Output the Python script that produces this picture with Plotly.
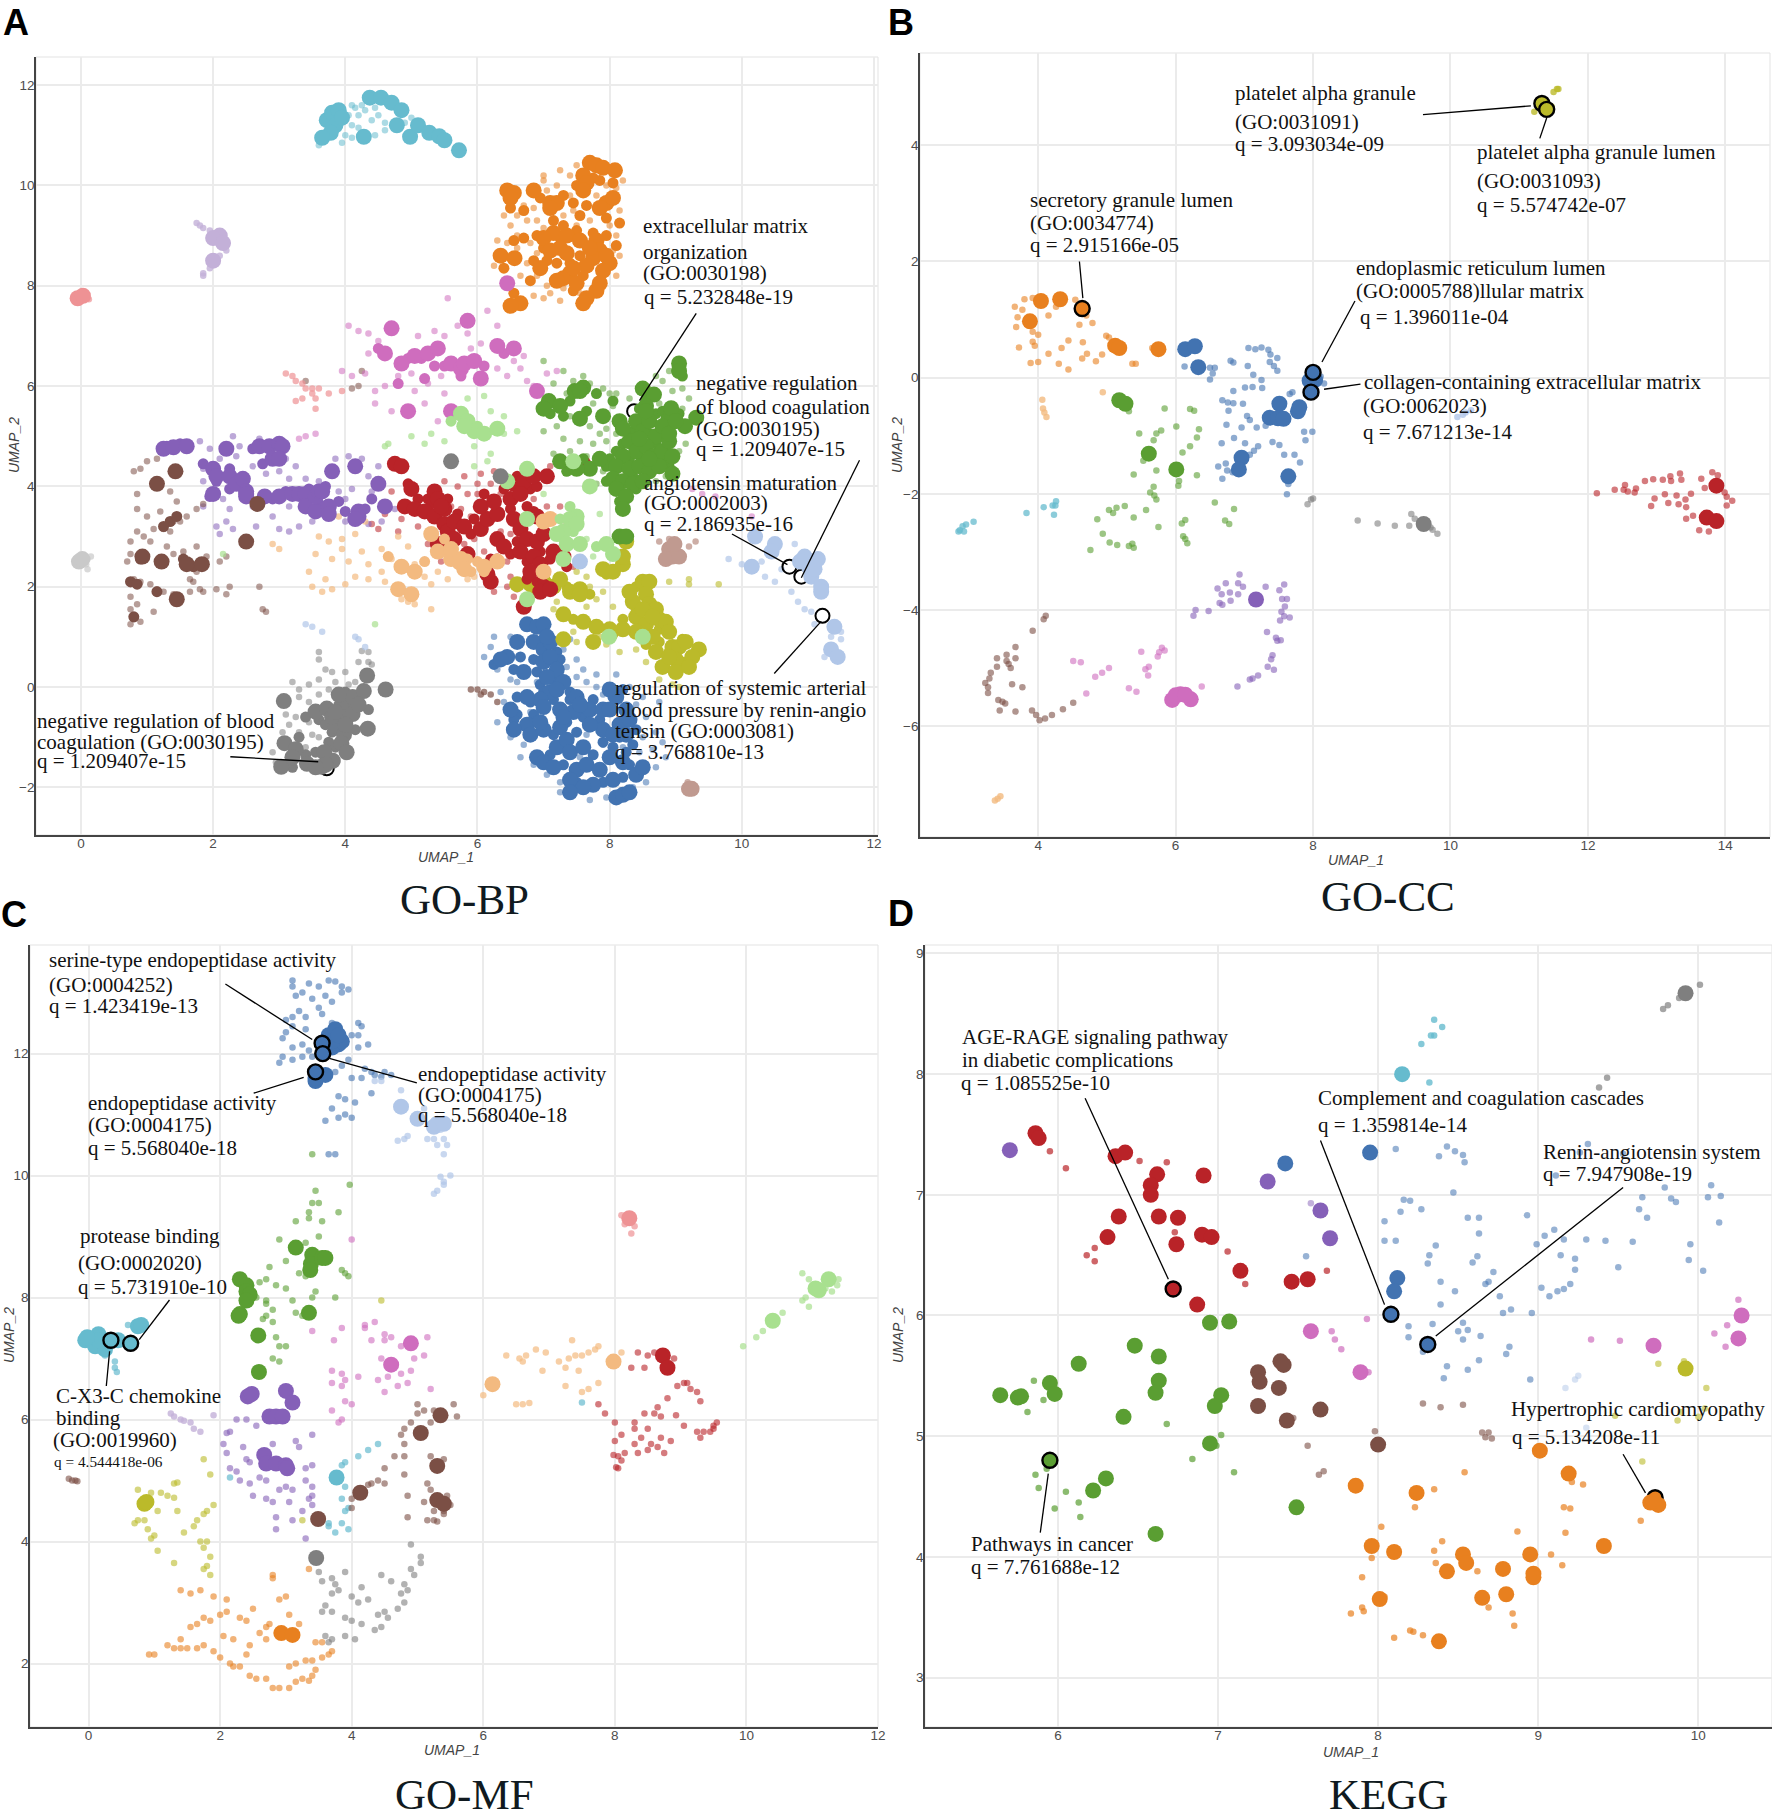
import plotly.graph_objects as go

# ---------- colours ----------
BLUE="#4273B1"; ORANGE="#E8801F"; GREEN="#5A9E32"; RED="#B92328"; PURPLE="#8560B8"; BROWN="#7B4F45"
PINK="#CF6DBE"; GRAY="#7F7F7F"; OLIVE="#BBBA2A"; TEAL="#66BBCE"; LBLUE="#B0C6E8"; LORANGE="#F3BA80"
LGREEN="#A8E08F"; SALMON="#EE9294"; LPURPLE="#C3B0D8"; LBROWN="#C09A90"; LGRAY="#C9C9C9"

# ---------- panel A (GO-BP) ----------
A_teal_L=[(3.72,11.3),(3.8,11.45),(3.9,11.5),(3.85,11.2),(3.95,11.35),(3.78,11.05),(4.28,10.97),(4.37,11.75),(4.54,11.75),(4.7,11.65),(4.85,11.5),(4.78,11.2),(4.98,10.97),(5.1,11.2),(5.27,11.05),(5.42,10.98),(5.5,10.9),(5.72,10.7),(3.65,10.95)]
A_teal_S=[(3.6,10.8),(3.7,11.0),(4.0,11.0),(4.1,11.2),(4.2,11.4),(4.3,11.5),(4.4,11.3),(4.5,11.4),(4.6,11.1),(4.45,11.0),(4.15,11.55),(4.05,11.4),(3.95,10.85),(4.1,10.95),(4.6,11.25),(4.25,11.6),(4.1,11.6),(4.45,11.55),(4.2,11.15),(5.0,11.35),(4.9,11.25)]
A_orange_L=[(6.45,9.9),(6.55,9.85),(6.5,9.75),(6.85,9.9),(7.1,9.65),(7.2,9.65),(7.1,9.55),(7.7,10.45),(7.8,10.4),(7.9,10.35),(7.6,10.2),(7.65,10.05),(8.08,10.3),(7.6,9.9),(7.95,9.65),(8.05,9.75),(7.85,9.55),(7.15,9.05),(7.0,8.95),(7.35,9.0),(7.55,8.9),(7.25,8.75),(7.1,8.7),(7.35,8.65),(7.8,8.9),(7.85,8.7),(7.75,8.55),(8.0,8.45),(7.9,8.3),(7.65,8.4),(7.4,8.25),(7.3,8.15),(7.5,8.05),(7.2,8.1),(7.85,8.05),(7.8,7.9),(7.65,7.75),(7.6,7.65),(6.35,8.6),(6.56,8.55),(6.65,7.65),(6.5,7.6),(6.95,8.35),(7.7,8.75),(7.45,8.35),(7.95,8.6)]
A_orange_M=[(6.5,9.55),(6.7,9.5),(6.95,9.75),(7.3,9.8),(7.45,9.65),(7.55,9.4),(7.3,9.2),(7.5,9.1),(7.15,9.3),(6.7,8.95),(6.55,8.9),(6.4,8.35),(6.85,8.5),(7.05,8.5),(7.2,8.45),(7.55,8.6),(7.6,8.2),(7.45,7.9),(8.1,8.8),(8.15,9.25),(8.05,10.05),(7.85,10.1),(7.75,10.15),(7.5,10.0),(6.8,8.1),(6.55,7.85),(7.95,9.35),(7.75,9.05),(7.95,9.0),(7.4,8.45),(6.9,9.0),(7.25,8.95),(7.0,8.75),(7.65,9.6)]
A_orange_S=[(6.4,9.4),(6.5,9.2),(6.6,9.4),(6.7,9.6),(6.75,9.3),(6.6,9.0),(6.45,8.85),(6.3,8.9),(6.8,8.85),(6.9,8.65),(6.75,8.45),(6.25,8.4),(6.65,8.2),(6.9,8.2),(7.05,8.0),(7.0,7.75),(7.1,7.85),(6.85,7.8),(6.9,9.3),(7.0,9.15),(7.3,9.4),(7.45,9.5),(7.4,9.8),(7.2,10.0),(7.0,10.1),(7.25,10.3),(7.4,10.2),(7.0,10.2),(7.5,9.2),(7.7,9.3),(8.0,9.2),(8.1,9.0),(8.15,9.5),(8.2,10.1),(8.1,9.95),(7.95,10.0),(7.8,9.8),(8.05,8.7),(8.15,8.6),(8.1,8.2),(7.25,7.7),(7.3,7.95),(7.55,7.85),(7.05,9.9),(7.5,10.4),(6.95,8.45),(6.6,8.75),(6.85,9.55)]
A_green_L=[(9.05,6.45),(9.05,6.3),(8.5,5.95),(7.6,5.97),(7.47,5.9),(7.08,5.7),(7.0,5.55),(7.25,5.6),(7.55,5.35),(7.9,5.4),(8.15,5.3),(8.67,5.83),(8.93,5.56),(9.31,5.37),(9.14,5.2),(8.4,5.3),(8.5,5.1),(8.6,5.3),(8.7,5.0),(8.8,5.2),(8.3,4.9),(8.4,4.7),(8.55,4.8),(8.65,4.6),(8.8,4.7),(8.9,4.9),(8.95,4.6),(8.2,4.6),(8.1,4.4),(8.3,4.35),(8.45,4.4),(8.6,4.3),(8.75,4.4),(8.05,4.15),(8.2,4.1),(8.35,4.05),(8.5,4.1),(8.1,3.95),(8.25,3.8),(8.2,3.55),(8.95,4.25),(7.7,4.35),(7.5,4.35),(7.25,4.5),(7.85,4.55),(8.9,5.05),(9.0,5.3),(8.2,5.15),(8.55,5.6),(8.55,5.5),(8.45,4.95),(8.6,4.55),(8.15,3.0),(8.25,3.0),(7.55,5.9)]
A_green_M=[(8.05,5.7),(8.55,5.75),(8.45,5.55),(8.7,5.45),(8.8,5.5),(9.05,5.45),(8.95,5.25),(8.35,5.1),(8.2,4.85),(8.1,4.7),(8.0,4.55),(7.95,4.4),(8.9,4.4),(8.85,4.55),(7.95,4.1),(8.4,3.95),(8.3,4.55),(8.5,4.55),(8.7,4.85),(8.6,5.05),(8.15,3.7),(7.3,5.4),(7.1,5.45),(7.8,5.85),(7.4,5.7),(7.65,5.5),(8.85,5.35),(8.75,4.55),(7.6,4.55),(7.35,4.3),(9.1,6.2),(8.55,5.7),(8.35,4.2)]
A_green_S=[(7.3,6.3),(7.45,6.1),(7.7,6.05),(7.9,5.95),(8.1,5.85),(8.3,5.75),(8.05,5.6),(7.75,5.65),(7.4,5.4),(7.2,5.2),(7.0,5.1),(7.3,4.95),(7.55,4.9),(7.75,4.85),(7.95,4.9),(7.4,4.7),(7.15,4.65),(7.65,4.6),(7.9,4.3),(7.8,4.05),(8.1,5.05),(7.95,5.15),(8.75,5.65),(8.95,5.9),(9.1,5.95),(8.8,6.1),(8.7,6.2),(8.9,6.3),(9.2,5.75),(9.05,4.7),(9.15,4.85),(7.15,6.05),(6.9,5.9),(7.0,6.5),(7.6,6.2),(8.0,5.85),(7.35,5.85),(7.85,5.05),(7.7,5.2),(8.85,4.2),(8.7,4.1),(9.1,5.55)]
A_gray_L=[(3.07,-0.28),(3.55,-0.49),(3.72,-0.43),(3.94,-0.37),(4.11,-0.2),(4.28,-0.08),(4.33,0.23),(4.61,-0.05),(4.34,-0.83),(4.02,-0.6),(3.85,-0.78),(3.98,-0.95),(4.11,-0.54),(3.08,-1.12),(3.25,-1.24),(3.03,-1.59),(3.42,-1.53),(3.64,-1.59),(3.81,-1.47),(3.68,-1.3),(3.94,-1.12),(4.02,-1.3),(3.8,-0.6),(3.9,-0.15),(3.7,-1.55),(3.55,-1.6),(3.2,-1.4),(4.0,-0.75),(4.2,-0.35),(3.85,-0.5)]
A_gray_M=[(3.3,-1.0),(3.4,-1.35),(3.2,-1.6),(3.55,-1.3),(3.75,-1.1),(3.85,-1.2),(3.6,-0.65),(3.7,-0.75),(4.15,-0.85),(3.95,-0.2),(4.05,-0.35),(4.35,-0.45),(3.4,-0.6),(3.8,-0.9),(4.0,-0.1)]
A_gray_S=[(3.1,-0.55),(3.15,-0.75),(3.05,-0.9),(3.3,-0.9),(3.25,-0.6),(3.45,-0.3),(3.3,-0.05),(3.2,0.1),(3.45,0.05),(3.6,0.15),(3.6,-0.15),(3.75,-0.05),(3.85,0.1),(4.0,0.3),(4.15,0.1),(3.6,0.55),(3.7,0.35),(3.6,0.7),(4.2,0.5),(4.35,0.5),(4.35,0.7),(4.25,0.72),(4.4,0.45),(3.5,-0.95),(3.4,-1.2),(3.6,-1.0),(2.9,-1.3),(2.95,-1.5),(3.3,-0.2),(3.8,0.3),(4.05,0.05),(3.45,-0.7)]
A_blue_L=[(6.6,0.9),(6.45,0.6),(6.35,0.55),(6.7,0.3),(6.75,1.25),(6.9,1.2),(7.0,1.25),(6.85,0.9),(7.0,0.75),(7.1,0.9),(7.0,0.5),(7.1,0.6),(7.2,0.35),(7.05,1.0),(7.05,0.2),(7.3,0.1),(7.1,-0.1),(6.95,-0.25),(6.75,-0.2),(7.0,-0.4),(7.25,-0.45),(6.75,-0.75),(6.55,-0.85),(6.8,-0.95),(7.0,-0.85),(7.25,-0.8),(7.45,-0.5),(7.5,-0.2),(7.7,-0.45),(7.55,-0.35),(7.9,-0.45),(8.0,-0.45),(7.9,-0.85),(8.15,-0.75),(8.05,-0.95),(8.25,-0.95),(7.2,-1.2),(7.35,-1.05),(7.4,-1.3),(6.9,-1.4),(7.0,-1.5),(7.15,-1.6),(7.5,-1.65),(7.65,-1.55),(7.4,-1.85),(7.75,-1.95),(7.6,-2.0),(7.4,-2.1),(8.05,-1.85),(8.1,-2.2),(8.2,-2.15),(8.3,-2.1),(8.4,-1.75),(8.5,-1.6),(8.2,-1.5),(8.0,-1.4),(7.85,-1.65),(8.1,-0.2),(8.0,-0.05),(8.25,-0.45),(7.6,-1.2),(7.2,-0.05),(7.3,-0.6),(6.5,-0.45),(6.95,-0.7),(8.3,-0.65),(7.7,-0.75)]
A_blue_M=[(6.25,0.45),(6.55,0.35),(6.65,0.6),(6.85,0.55),(6.9,0.3),(6.95,0.05),(7.2,0.7),(7.25,0.55),(7.15,0.15),(7.0,-0.1),(6.85,-0.55),(6.6,-0.55),(6.6,-0.2),(7.15,-0.25),(7.4,-0.25),(7.35,-0.7),(7.5,-0.9),(7.6,-0.6),(7.75,-0.25),(7.85,-0.65),(8.05,-0.2),(8.2,-0.05),(8.4,-0.85),(8.35,-1.15),(8.25,-1.3),(8.05,-1.2),(7.75,-1.35),(7.3,-1.55),(7.1,-1.35),(7.15,-0.95),(7.5,-1.9),(8.2,-1.8),(8.3,-1.55),(7.9,-1.9),(6.8,-0.3),(7.4,-0.1),(7.9,-1.1),(6.55,-0.65),(8.15,-1.0)]
A_blue_S=[(6.1,0.6),(6.2,0.8),(6.25,1.0),(6.5,1.0),(6.3,0.35),(6.5,0.15),(6.35,-0.1),(6.4,-0.3),(6.6,0.1),(6.3,-0.7),(6.5,-1.0),(6.7,-1.15),(6.65,-1.4),(6.85,-1.55),(7.3,0.75),(7.35,0.4),(7.5,0.2),(7.5,0.55),(7.4,0.95),(7.6,0.35),(7.8,0.0),(7.65,0.1),(7.9,-0.15),(8.1,0.25),(8.3,0.0),(8.5,-0.2),(8.55,-0.6),(8.7,-0.9),(8.5,-1.0),(8.65,-1.25),(8.45,-1.3),(8.7,-1.6),(8.55,-1.9),(8.35,-2.0),(7.95,-2.2),(7.7,-2.25),(7.25,-1.9),(7.05,-1.75),(7.25,-2.1),(7.55,-1.4),(7.9,-1.15),(8.2,-1.2),(8.85,-1.4),(8.8,-1.1),(7.65,-0.95),(6.8,-0.5),(7.8,0.25),(8.4,-0.35),(8.75,-0.3),(6.9,0.1)]
A_red_L=[(4.75,4.45),(4.85,4.4),(5.0,3.95),(4.9,3.6),(5.05,3.55),(5.2,3.5),(5.35,3.4),(5.5,3.25),(5.55,3.1),(5.35,3.9),(5.4,3.75),(5.5,3.55),(5.65,3.3),(5.8,3.2),(5.4,2.85),(5.85,2.65),(6.05,3.15),(6.15,3.35),(6.3,3.45),(6.05,3.6),(6.25,3.7),(6.5,3.75),(6.55,4.05),(6.7,4.1),(6.85,4.2),(6.65,3.85),(6.55,3.35),(6.65,3.15),(6.75,2.95),(6.9,2.9),(6.65,2.7),(6.85,2.6),(6.95,2.45),(6.8,2.3),(7.0,3.05),(7.15,2.7),(7.3,2.6),(7.05,4.2),(7.6,4.45),(6.3,2.95),(6.2,2.1),(6.15,2.25),(6.4,2.8),(7.0,2.0),(6.95,1.9),(7.1,1.95),(6.7,1.6),(5.65,2.95),(5.45,3.6),(6.9,3.4)]
A_red_M=[(5.1,3.75),(5.25,3.75),(4.95,4.05),(5.3,3.65),(5.55,3.75),(5.7,3.45),(5.95,3.35),(6.1,3.85),(6.4,3.95),(6.5,3.55),(6.75,3.6),(6.85,3.5),(6.6,2.9),(6.5,2.65),(6.75,2.5),(6.95,2.7),(7.1,2.55),(6.9,2.1),(6.6,4.2),(6.8,3.95),(5.9,3.05),(6.2,2.55),(7.35,2.4),(6.75,2.15),(6.9,4.0)]
A_red_S=[(4.7,3.9),(4.85,3.35),(4.6,3.45),(4.4,3.25),(4.5,3.15),(4.8,3.1),(5.1,3.2),(5.3,3.05),(5.6,3.6),(5.75,3.55),(5.85,3.85),(5.7,4.0),(5.8,4.2),(6.05,4.25),(6.2,4.05),(6.35,3.85),(6.0,3.85),(6.5,3.05),(6.35,3.1),(6.45,2.5),(6.3,2.6),(5.95,2.95),(6.1,2.7),(6.05,2.45),(6.5,2.2),(6.45,2.0),(6.25,1.9),(6.55,1.8),(6.6,1.95),(7.2,3.0),(7.05,3.6),(7.25,3.6),(6.85,3.75),(7.1,4.4),(6.8,4.4),(7.35,3.25),(7.45,2.4),(6.95,2.2),(5.45,2.5),(5.6,2.7),(5.8,2.85),(5.25,2.85),(6.0,4.05),(6.25,4.3),(5.9,3.4),(5.5,4.1)]
A_purple_L=[(1.25,4.75),(1.4,4.78),(1.6,4.8),(2.2,4.75),(2.0,4.35),(2.05,4.2),(2.25,4.2),(2.35,4.05),(2.45,4.15),(2.5,3.9),(2.0,3.85),(2.5,3.8),(2.5,3.85),(2.78,3.8),(2.7,4.8),(2.85,4.8),(3.0,4.85),(3.05,4.8),(2.9,4.55),(3.0,4.55),(3.0,3.8),(3.2,3.85),(3.3,3.85),(3.4,3.85),(3.4,3.6),(3.55,3.5),(3.55,3.8),(3.6,3.9),(3.75,3.6),(3.65,3.9),(3.8,4.3),(3.75,3.45),(4.2,3.5),(4.2,3.4),(4.15,4.4),(4.15,3.35),(4.6,3.6),(4.5,4.05)]
A_purple_M=[(1.3,4.8),(1.5,4.85),(2.05,4.1),(2.25,3.95),(2.75,4.45),(2.6,4.75),(3.1,3.9),(3.6,3.65),(3.9,3.7),(4.0,3.5),(4.3,3.55),(2.25,4.35),(1.95,3.8),(1.85,4.45),(3.7,4.0),(4.4,3.75),(3.45,3.95),(2.9,3.75)]
A_purple_S=[(1.8,4.9),(1.95,4.75),(2.1,4.55),(2.35,4.6),(2.6,4.4),(2.4,4.8),(1.85,4.35),(1.85,4.1),(2.15,3.75),(1.85,3.6),(2.25,3.55),(2.6,3.6),(2.9,3.4),(3.0,3.15),(2.65,3.2),(2.3,3.15),(2.05,3.2),(2.2,3.3),(2.1,3.05),(3.15,3.1),(3.3,3.2),(3.5,3.3),(3.15,4.15),(3.0,4.3),(3.1,4.55),(3.25,4.4),(3.4,4.15),(3.6,4.1),(3.85,4.55),(4.05,4.6),(4.25,4.55),(4.35,4.2),(4.4,3.9),(4.0,3.75),(3.9,3.9),(4.0,3.3),(4.1,3.95),(4.35,3.25),(4.55,3.3),(4.75,3.55),(4.5,4.4),(2.7,4.95),(2.3,5.0),(2.8,4.25),(3.15,3.6)]
A_brown_L=[(1.43,4.3),(1.15,4.05),(2.67,3.65),(2.5,2.9),(0.93,2.6),(1.22,2.5),(1.6,2.45),(1.83,2.45),(1.45,1.75)]
A_brown_M=[(1.35,3.3),(1.45,3.4),(1.25,3.2),(0.75,2.1),(0.85,2.05),(0.8,1.4),(1.55,2.55),(1.7,2.4),(1.15,1.9),(0.9,2.55)]
A_brown_S=[(0.8,4.3),(0.9,4.35),(1.0,4.5),(1.15,4.55),(1.2,4.7),(0.85,3.85),(0.85,3.55),(1.0,3.4),(1.2,3.5),(1.35,3.9),(1.45,3.7),(1.4,3.3),(1.25,3.15),(1.35,3.1),(1.5,3.3),(1.6,3.4),(1.75,3.55),(1.85,3.65),(1.1,3.15),(0.85,3.1),(0.75,2.9),(0.75,2.65),(0.7,2.5),(0.95,3.0),(1.05,2.9),(1.3,2.8),(1.4,2.65),(1.55,2.7),(1.75,2.8),(1.9,2.6),(2.1,2.5),(2.2,2.6),(1.75,2.3),(1.7,2.1),(1.65,2.15),(1.8,1.95),(0.8,2.15),(0.75,2.05),(0.9,2.1),(1.05,2.05),(1.15,1.95),(1.25,1.9),(1.4,1.85),(1.65,1.9),(1.85,1.9),(2.05,1.95),(2.2,1.85),(2.25,2.0),(0.75,1.8),(0.75,1.55),(0.8,1.35),(0.75,1.25),(0.9,1.3),(1.1,1.5),(0.85,1.65),(2.75,1.55),(2.8,1.5),(2.7,2.0),(3.4,6.1),(4.2,6.0),(4.1,5.95),(4.25,6.3)]
A_lorange_L=[(4.85,2.4),(5.05,2.3),(5.3,3.05),(5.4,2.7),(5.6,2.55),(5.75,2.55),(5.6,2.75),(5.8,2.35),(6.1,2.4),(6.3,2.5),(4.8,1.95),(5.0,1.85),(7.0,3.3),(7.1,3.35),(7.0,2.3)]
A_lorange_M=[(5.5,2.95),(5.85,2.55),(6.0,2.5),(5.9,2.3),(5.2,2.5),(4.65,2.6),(6.1,2.3),(5.7,2.45)]
A_lorange_S=[(3.6,3.0),(3.75,2.9),(3.55,2.65),(3.8,2.55),(3.95,2.75),(4.15,3.05),(4.25,2.7),(4.05,2.5),(4.35,2.45),(4.55,2.75),(4.55,2.3),(4.35,2.15),(4.6,2.1),(4.15,2.2),(3.45,2.3),(3.5,2.0),(3.65,1.9),(3.8,1.95),(4.0,2.05),(3.7,2.15),(4.8,3.0),(4.95,2.8),(5.05,2.45),(5.2,2.2),(5.4,2.3),(5.3,2.05),(5.55,2.15),(4.85,1.75),(5.05,1.65),(4.95,1.7),(5.3,1.55),(2.9,2.85),(3.0,2.75),(5.85,2.15),(5.95,2.2),(3.95,2.95),(4.3,3.3),(3.55,3.55),(3.9,3.4),(4.7,2.55)]
A_olive_L=[(6.6,2.05),(6.8,2.05),(6.85,2.0),(7.0,2.1),(7.15,2.0),(7.25,2.15),(7.4,1.9),(7.55,1.95),(7.55,1.85),(7.3,1.45),(7.6,1.3),(7.9,2.35),(8.05,2.3),(8.2,2.45),(8.2,2.6),(8.25,2.9),(8.5,2.1),(8.6,2.1),(8.55,1.85),(8.35,1.7),(8.6,1.65),(8.7,1.55),(8.75,1.35),(8.85,1.3),(8.4,1.4),(8.55,1.25),(8.4,1.1),(8.2,1.15),(8.0,1.15),(7.8,1.2),(7.3,0.95),(7.75,0.9),(8.65,1.0),(8.95,0.8),(9.05,0.8),(9.15,0.9),(9.35,0.75),(9.25,0.6),(9.0,0.55),(8.7,0.7),(8.8,0.4),(9.0,0.3),(8.5,1.55),(8.3,1.9),(9.2,0.4),(8.9,0.6),(8.65,1.4),(8.9,1.1)]
A_olive_M=[(6.9,1.9),(7.35,2.0),(7.7,1.85),(8.4,2.0),(8.4,1.55),(8.2,1.35),(8.55,0.85),(8.75,0.9),(8.9,0.7),(9.1,0.5),(7.95,2.25),(8.05,1.05),(8.75,1.15),(7.45,1.35),(9.1,0.95)]
A_olive_S=[(7.5,2.3),(7.65,2.2),(7.7,2.0),(7.8,1.75),(7.65,1.6),(7.9,1.9),(8.05,1.6),(7.2,1.7),(7.15,1.55),(7.45,1.1),(7.5,0.9),(7.95,0.85),(8.15,0.7),(8.4,0.75),(8.55,0.5),(8.75,0.15),(8.95,0.05),(9.05,0.0),(9.2,2.15),(9.2,2.05),(9.65,2.05),(8.9,2.1),(7.85,1.0)]
A_pink_L=[(4.7,7.15),(4.6,6.65),(4.85,6.45),(5.05,6.6),(5.25,6.65),(5.4,6.75),(5.6,6.45),(5.75,6.35),(5.8,6.45),(5.95,6.5),(6.05,6.15),(6.3,6.8),(6.55,6.75),(5.85,7.3),(6.9,5.9),(4.95,5.5),(5.6,5.5),(6.45,8.05)]
A_pink_M=[(4.95,6.55),(5.15,6.55),(5.5,6.4),(4.5,6.75),(5.75,6.2),(5.35,6.4),(6.4,6.65),(6.1,6.4),(4.8,6.05),(5.2,6.15)]
A_pink_S=[(4.05,7.2),(4.2,7.1),(4.35,7.05),(4.5,6.9),(4.35,6.65),(4.6,6.0),(4.45,5.9),(4.45,5.65),(4.7,5.5),(5.05,5.9),(5.25,6.05),(5.5,5.85),(5.2,5.65),(5.4,5.3),(5.1,7.0),(5.35,7.1),(5.5,7.0),(5.55,7.75),(5.7,7.2),(5.85,7.05),(6.15,7.5),(6.05,6.85),(6.3,7.2),(6.55,6.5),(6.65,6.35),(6.3,6.35),(6.45,6.2),(6.75,6.1),(7.05,6.25),(7.2,6.3),(3.4,5.0),(3.55,5.05),(3.3,4.95),(3.95,6.3),(4.1,6.2),(4.3,6.25),(4.8,6.2),(5.0,6.25),(5.9,6.75),(6.7,6.6),(9.4,3.85),(9.6,3.8),(9.25,3.95),(10.15,3.4),(5.45,6.2),(6.85,6.0)]
A_lgreen_L=[(5.75,5.45),(5.85,5.3),(5.95,5.1),(6.1,5.05),(5.8,5.2),(6.3,5.15),(7.3,2.55),(7.5,3.4),(7.3,3.1),(7.4,3.35),(7.2,3.05),(7.35,2.85),(7.55,2.85),(7.95,2.85),(8.05,2.65),(7.5,3.25),(6.75,4.35),(6.45,4.1),(6.75,3.35),(7.45,4.5),(6.75,1.75),(8.5,1.0),(7.99,1.0),(7.7,4.0)]
A_lgreen_M=[(5.6,5.3),(6.0,5.2),(7.45,3.1),(7.25,3.35),(7.3,2.95),(7.8,2.8),(7.4,3.6)]
A_lgreen_S=[(5.3,5.05),(5.0,5.0),(5.2,4.85),(5.5,4.9),(5.95,4.8),(6.2,4.65),(5.95,4.4),(6.15,4.5),(6.2,5.5),(6.4,5.4),(6.4,5.05),(6.6,5.1),(5.85,5.75),(6.1,5.8),(7.0,3.85),(4.65,4.85),(4.6,4.8),(7.75,2.6),(7.85,3.45),(7.65,2.95),(4.45,1.25),(2.15,2.65)]
A_lblue_L=[(10.5,2.85),(10.2,3.0),(10.15,2.4),(10.45,2.7),(11.02,2.38),(11.05,2.2),(10.95,2.6),(11.1,2.35),(10.88,2.5),(11.15,2.55),(11.2,2.0),(11.2,1.9),(11.4,1.2),(11.35,0.75),(11.45,0.6),(7.55,2.5)]
A_lblue_S=[(10.0,2.45),(10.3,2.5),(10.6,2.35),(10.5,2.1),(10.75,1.9),(10.85,1.7),(10.95,1.55),(11.05,1.5),(11.1,1.25),(11.35,1.0),(11.5,0.95),(11.25,0.6),(3.4,1.25),(3.5,1.2),(3.65,1.1),(4.2,0.95),(4.15,1.0),(4.3,0.8),(9.8,2.55),(10.8,2.85),(10.35,2.2),(11.5,1.1)]
A_lpurple_L=[(2.1,9.0),(2.0,8.95),(2.15,8.85),(2.0,8.5)]
A_lpurple_S=[(1.75,9.25),(1.85,9.15),(1.95,9.1),(2.1,8.8),(1.95,8.35),(1.85,8.2),(1.85,8.25),(2.2,8.7),(1.8,9.2),(2.1,8.6)]
A_salmon_L=[(-0.05,7.75),(0.03,7.8)]
A_salmon_S=[(0.1,7.75),(0.12,7.73),(0.0,7.85),(-0.08,7.7),(3.4,5.95),(3.5,5.95),(3.35,6.05),(3.2,6.2),(3.1,6.25),(3.5,5.85),(3.55,5.75),(3.25,5.7),(3.35,5.75),(3.6,5.95),(3.75,5.85),(3.95,5.9),(3.55,5.55),(3.25,6.1)]
A_lgray_L=[(-0.03,2.5),(0.02,2.55)]
A_lgray_S=[(0.1,2.55),(0.15,2.6),(0.08,2.45),(-0.05,2.55),(0.1,2.35)]
A_lbrown_L=[(8.9,2.75),(8.95,2.6),(8.85,2.55),(9.05,2.6),(8.98,2.85),(9.2,-2.03),(9.24,-2.03)]
A_lbrown_S=[(9.3,2.9),(9.2,2.8),(8.75,2.9),(9.18,-1.9),(8.9,2.95)]
A_misc_brown_S=[(5.9,-0.05),(6.0,-0.05),(6.1,-0.1),(6.05,-0.15),(6.2,-0.15),(6.3,-0.3)]
A_misc_gray_L=[(5.6,4.5),(6.35,4.2)]
A_rings=[(8.37,5.5),(10.72,2.4),(10.9,2.2),(11.22,1.42),(3.72,-1.62)]
A_leaders=[[(9.31,7.45),(8.45,5.71)],[(11.78,4.52),(10.9,2.18)],[(9.85,3.05),(10.69,2.44)],[(10.49,0.27),(11.2,1.31)],[(2.26,-1.39),(3.59,-1.49)]]

# ---------- panel B (GO-CC) ----------
B_orange_L=[(4.04,1.32),(4.32,1.35),(3.88,0.97),(5.12,0.55),(5.18,0.51),(5.75,0.49)]
B_orange_S=[(3.8,1.35),(3.92,1.37),(3.66,1.22),(3.77,1.17),(3.7,1.04),(3.68,0.87),(3.92,0.79),(4.0,0.74),(3.92,0.62),(3.72,0.52),(3.95,0.55),(3.89,0.25),(4.0,0.27),(4.15,1.07),(4.26,1.22),(4.54,1.34),(4.6,0.91),(4.7,1.07),(4.79,0.94),(4.99,0.72),(5.03,0.69),(4.15,0.41),(4.34,0.51),(4.44,0.64),(4.3,0.24),(4.44,0.14),(4.64,0.33),(4.71,0.41),(4.65,0.61),(4.84,0.28),(4.93,0.4),(5.37,0.24),(5.42,0.24),(5.66,0.51)]
B_lorange_S=[(4.06,-0.38),(4.07,-0.53),(4.12,-0.68),(4.09,-0.6),(4.94,-0.25),(3.41,-7.25),(3.37,-7.28),(3.45,-7.21)]
B_blue_L=[(6.14,0.49),(6.28,0.54),(6.33,0.18),(7.51,-0.45),(7.37,-0.69),(7.49,-0.7),(7.57,-0.71),(7.78,-0.58),(7.8,-0.51),(6.96,-1.38),(6.92,-1.58),(7.64,-1.7),(7.95,-0.05),(8.03,-0.04)]
B_blue_S=[(7.06,0.51),(7.16,0.49),(7.25,0.52),(7.35,0.48),(7.38,0.4),(7.48,0.34),(7.37,0.27),(7.43,0.2),(7.48,0.12),(7.05,0.2),(7.13,0.05),(7.25,-0.04),(7.12,-0.16),(7.26,-0.18),(7.01,-0.17),(6.84,0.26),(6.8,0.29),(6.5,0.17),(6.57,0.17),(6.54,0.07),(6.5,-0.03),(6.13,0.19),(6.84,-0.23),(6.68,-0.39),(6.76,-0.43),(6.84,-0.44),(6.98,-0.45),(6.77,-0.57),(7.04,-0.66),(7.08,-0.73),(6.74,-0.81),(6.96,-0.86),(7.31,-0.83),(7.18,-0.86),(6.85,-1.04),(7.41,-1.11),(7.51,-1.16),(6.67,-1.13),(7.2,-1.18),(7.14,-1.26),(7.08,-1.33),(7.01,-1.13),(7.58,-1.33),(7.73,-1.33),(7.66,-0.28),(7.7,-0.25),(7.87,-0.93),(7.99,-0.93),(7.89,-1.08),(7.81,-1.46),(6.62,-1.53),(6.73,-1.48),(6.75,-1.6),(6.68,-1.74),(6.83,-1.63),(7.62,-2.01),(7.64,-1.83),(8.16,-0.1),(8.11,0.02)]
B_green_L=[(5.18,-0.39),(5.27,-0.45),(5.61,-1.31),(6.01,-1.58)]
B_green_S=[(5.32,-0.58),(5.84,-0.53),(6.21,-0.54),(6.27,-0.57),(6.01,-0.84),(6.34,-0.89),(5.79,-0.91),(5.72,-0.96),(5.47,-0.96),(5.68,-1.08),(6.21,-1.18),(6.1,-1.29),(6.31,-1.03),(5.53,-1.43),(5.39,-1.67),(6.31,-1.68),(5.72,-1.6),(5.68,-1.88),(5.63,-1.98),(5.69,-2.03),(5.72,-2.1),(6.04,-1.86),(6.05,-1.78),(5.26,-2.21),(5.14,-2.24),(5.03,-2.28),(5.09,-2.33),(4.86,-2.44),(5.39,-2.41),(5.57,-2.28),(5.75,-2.57),(6.09,-2.51),(6.14,-2.45),(6.57,-2.15),(6.85,-2.26),(6.72,-2.46),(6.78,-2.52),(4.94,-2.69),(5.04,-2.84),(5.15,-2.88),(4.76,-2.97),(5.37,-2.86),(5.32,-2.9),(5.39,-2.93),(6.11,-2.73),(6.14,-2.78),(6.17,-2.85)]
B_teal_S=[(2.86,-2.63),(2.9,-2.56),(2.95,-2.53),(2.84,-2.65),(2.92,-2.65),(3.06,-2.48),(3.83,-2.33),(4.08,-2.23),(4.21,-2.2),(4.26,-2.13),(4.25,-2.2),(4.23,-2.36)]
B_gray_L=[(9.61,-2.52)]
B_gray_S=[(7.92,-2.18),(7.97,-2.1),(8.0,-2.08),(8.65,-2.46),(8.94,-2.51),(9.19,-2.55),(9.4,-2.55),(9.43,-2.35),(9.48,-2.43),(9.71,-2.58),(9.74,-2.62),(9.81,-2.69)]
B_red_L=[(13.87,-1.86),(13.73,-2.41),(13.87,-2.47)]
B_red_S=[(12.13,-1.99),(12.39,-1.93),(12.52,-1.93),(12.54,-1.85),(12.58,-1.96),(12.68,-1.98),(12.7,-1.91),(12.83,-1.78),(12.95,-1.75),(13.09,-1.76),(13.2,-1.7),(13.21,-1.78),(13.34,-1.65),(13.36,-1.76),(13.65,-1.74),(13.81,-1.63),(13.89,-1.68),(13.7,-1.9),(13.99,-1.98),(14.1,-2.12),(14.02,-2.05),(14.02,-2.2),(13.5,-2.0),(13.42,-2.1),(13.29,-2.03),(13.12,-2.01),(12.97,-2.08),(13.17,-2.16),(12.92,-2.21),(13.32,-2.18),(13.43,-2.23),(13.43,-2.43),(13.53,-2.38),(13.62,-2.63),(13.76,-2.65)]
B_purple_L=[(7.17,-3.82)]
B_purple_S=[(6.93,-3.39),(6.73,-3.54),(6.91,-3.54),(6.98,-3.6),(6.61,-3.63),(6.79,-3.7),(6.67,-3.73),(6.91,-3.73),(6.8,-3.84),(6.64,-3.88),(6.68,-3.91),(6.48,-4.02),(6.29,-4.0),(6.26,-4.1),(7.58,-3.56),(7.51,-3.66),(7.31,-3.6),(7.55,-3.81),(7.62,-3.81),(7.59,-3.94),(7.54,-4.03),(7.58,-4.11),(7.66,-4.13),(7.52,-4.18),(7.33,-4.38),(7.46,-4.48),(7.53,-4.52),(7.48,-4.53),(7.41,-4.78),(7.39,-4.85),(7.34,-4.98),(7.43,-5.03),(7.2,-5.13),(7.12,-5.18),(7.08,-5.2),(6.9,-5.32)]
B_pink_L=[(5.95,-5.55),(6.07,-5.45),(6.0,-5.47),(6.22,-5.54),(6.14,-5.46)]
B_pink_S=[(4.51,-4.88),(4.62,-4.9),(5.03,-5.0),(4.93,-5.08),(4.83,-5.15),(4.7,-5.44),(5.5,-4.72),(5.8,-4.65),(5.84,-4.7),(5.76,-4.73),(5.74,-4.8),(5.61,-4.98),(5.56,-5.02),(5.6,-5.13),(5.32,-5.35),(5.43,-5.41),(6.38,-5.32)]
B_brown_S=[(4.11,-4.1),(4.08,-4.16),(3.92,-4.36),(3.67,-4.64),(3.54,-4.77),(3.4,-4.83),(3.67,-4.83),(3.54,-4.88),(3.57,-4.93),(3.4,-4.98),(3.6,-5.0),(3.31,-5.08),(3.29,-5.18),(3.23,-5.26),(3.27,-5.33),(3.62,-5.28),(3.77,-5.33),(3.27,-5.43),(3.42,-5.55),(3.48,-5.58),(3.52,-5.61),(3.44,-5.73),(3.67,-5.75),(3.91,-5.73),(3.97,-5.81),(4.02,-5.9),(4.1,-5.87),(4.2,-5.81),(4.36,-5.71),(4.51,-5.6)]
B_olive_S=[(11.55,4.97),(11.5,4.92),(11.57,4.97),(11.22,4.58),(11.47,4.67)]
B_lblue_S=[(10.1,-0.68),(10.18,-0.64),(10.3,-0.56),(10.22,-0.6)]
B_ring_fill=[(11.33,4.72,OLIVE),(11.4,4.62,OLIVE),(4.64,1.19,ORANGE),(8.0,0.09,BLUE),(7.97,-0.25,BLUE)]
B_leaders=[[(9.6,4.53),(11.17,4.68)],[(11.3,4.12),(11.4,4.47)],[(4.6,2.0),(4.65,1.37)],[(8.13,0.27),(8.61,1.32)],[(8.16,-0.2),(8.69,-0.11)]]

# ---------- panel C (GO-MF) ----------
C_blue_L=[(3.74,12.35),(3.75,12.25),(3.8,12.15),(3.7,12.1),(3.85,12.2),(3.65,12.3),(3.75,12.4),(3.45,11.55),(3.6,11.65),(3.45,11.6),(3.7,12.2),(3.8,12.3)]
C_blue_S=[(3.1,13.1),(3.1,13.2),(3.25,13.0),(3.35,13.15),(3.5,13.1),(3.65,13.2),(3.75,13.18),(3.85,13.1),(3.95,13.05),(3.85,13.0),(3.15,12.95),(3.4,12.9),(3.6,12.95),(3.7,12.85),(3.5,12.75),(3.2,12.7),(3.3,12.6),(3.1,12.6),(3.0,12.55),(3.55,12.65),(3.7,12.5),(3.1,12.45),(3.0,12.35),(2.95,12.25),(3.1,12.1),(3.25,12.15),(3.3,12.4),(2.95,11.95),(3.1,11.9),(3.25,11.95),(3.4,11.95),(2.9,11.85),(3.35,12.05),(4.1,12.5),(4.15,12.45),(4.1,12.3),(4.25,12.15),(4.1,12.1),(4.0,12.3),(3.95,11.9),(3.85,11.8),(3.75,11.7),(4.0,11.6),(4.2,11.75),(4.3,11.7),(4.35,11.65),(4.45,11.62),(4.5,11.7),(4.6,11.65),(4.3,11.35),(3.8,11.3),(3.9,11.25),(4.05,11.2),(3.7,11.1),(3.9,11.0),(4.0,10.95),(3.8,10.95),(3.6,10.9),(3.65,10.35),(3.75,10.35),(4.15,11.6)]
C_lblue_L=[(4.75,11.13),(5.0,10.93),(5.3,10.85),(5.25,10.8),(5.4,10.85)]
C_lblue_S=[(4.75,11.4),(4.45,11.55),(4.35,11.55),(5.1,11.1),(5.25,10.6),(5.4,10.6),(5.45,10.5),(5.4,10.35),(5.3,10.5),(5.15,10.6),(4.7,10.57),(4.8,10.6),(4.85,10.65),(5.4,9.9),(5.4,9.85),(5.3,9.75),(5.25,9.7),(5.35,9.98),(5.5,10.0),(5.35,10.75)]
C_green_L=[(2.3,8.3),(2.4,8.2),(2.4,8.1),(2.45,8.05),(2.4,7.95),(2.3,7.73),(2.28,7.7),(2.58,7.38),(3.15,8.82),(3.4,8.7),(3.38,8.55),(3.55,8.65),(3.6,8.65),(3.37,8.45),(3.35,7.75),(2.59,6.78)]
C_green_S=[(3.4,10.35),(3.97,9.85),(3.45,9.75),(3.4,9.55),(3.5,9.55),(3.35,9.4),(3.55,9.25),(3.35,9.3),(3.15,9.25),(3.8,9.4),(3.5,9.0),(2.9,8.95),(3.0,8.6),(3.3,8.9),(3.2,8.4),(3.45,8.1),(2.75,8.5),(2.7,8.3),(2.85,8.2),(3.0,8.15),(2.6,8.25),(2.7,7.9),(2.8,7.8),(3.1,7.95),(3.15,7.75),(3.25,7.7),(2.65,7.65),(2.7,7.7),(3.75,8.0),(3.9,8.4),(3.95,8.35),(3.85,8.45),(2.55,8.0),(2.8,7.6),(2.85,7.35),(2.9,7.2),(3.0,7.2),(2.8,7.0),(2.9,6.95),(2.7,7.95),(3.4,8.0),(3.3,8.35)]
C_teal_L=[(-0.05,7.3),(0.05,7.3),(0.15,7.4),(0.2,7.25),(0.1,7.2),(0.25,7.15),(0.3,7.3),(0.45,7.3),(0.75,7.53),(0.8,7.55),(0.15,7.3),(-0.02,7.35),(3.77,5.05)]
C_teal_S=[(0.4,6.95),(0.4,6.85),(0.43,6.78),(0.6,7.55),(0.25,7.05),(3.85,4.3),(3.9,4.5),(3.95,4.55),(3.85,4.7),(3.9,4.9),(3.85,5.25),(3.9,5.3),(4.1,5.4),(4.25,5.5),(4.4,5.6),(2.15,5.05),(3.65,4.3),(3.65,4.25),(3.75,4.15),(3.95,4.2),(7.5,6.28)]
C_purple_L=[(2.42,6.38),(2.48,6.42),(3.0,6.47),(3.1,6.28),(2.75,6.05),(2.85,6.05),(2.95,6.05),(2.67,5.42),(2.7,5.28),(2.85,5.28),(3.0,5.25),(3.02,5.2)]
C_purple_S=[(2.15,5.8),(2.1,5.78),(2.25,6.0),(2.4,6.0),(2.05,5.6),(2.1,5.45),(2.35,5.55),(2.4,5.35),(2.45,5.3),(2.25,5.15),(2.3,5.0),(2.15,5.2),(2.45,4.95),(2.6,5.05),(2.7,5.0),(2.5,4.75),(2.7,4.7),(2.8,4.65),(2.9,4.85),(3.1,4.85),(3.3,5.0),(3.3,5.2),(3.4,5.25),(3.2,5.55),(3.4,5.75),(3.15,5.65),(3.4,4.9),(3.4,4.6),(3.4,4.75),(3.05,4.65),(3.25,4.5),(2.85,4.4),(3.1,4.35),(2.85,4.2),(3.3,4.05),(3.35,4.7),(2.55,5.9),(2.8,5.6),(3.0,4.9)]
C_brown_L=[(5.35,6.07),(5.05,5.78),(5.3,5.24),(5.3,4.68),(5.4,4.62),(4.13,4.8),(3.49,4.37)]
C_brown_S=[(5.0,6.25),(5.1,6.15),(5.25,6.15),(5.55,6.25),(5.6,6.05),(5.0,6.1),(4.9,5.95),(4.8,5.85),(5.2,5.95),(4.75,5.75),(5.2,5.4),(5.4,5.35),(4.8,5.6),(4.65,5.4),(4.8,5.1),(4.5,5.2),(4.4,5.0),(4.3,4.95),(4.25,4.93),(4.0,4.7),(4.5,4.95),(4.85,4.75),(5.15,4.95),(5.2,4.85),(5.45,4.75),(5.5,4.6),(5.25,4.5),(5.1,4.65),(5.4,4.45),(5.25,4.35),(5.15,4.35),(4.85,4.4),(5.3,4.33),(4.0,4.55),(5.4,4.5),(4.8,5.4),(-0.3,5.03),(-0.25,5.0),(-0.2,5.0),(-0.17,4.99)]
C_olive_L=[(0.85,4.62),(0.88,4.65)]
C_olive_S=[(0.75,4.85),(0.95,4.8),(1.1,4.8),(1.2,4.75),(1.3,4.72),(1.3,4.95),(1.35,4.97),(0.7,4.3),(0.75,4.35),(0.85,4.35),(0.9,4.2),(1.0,4.1),(0.95,4.05),(1.05,4.5),(1.35,4.5),(1.6,4.25),(1.65,4.35),(1.75,4.45),(1.8,4.5),(1.9,4.6),(1.85,5.1),(1.75,5.35),(1.45,4.15),(1.7,4.0),(1.75,3.9),(1.8,4.0),(1.85,3.75),(1.75,3.55),(1.8,3.6),(1.85,3.45),(1.3,3.65),(1.05,3.85),(3.25,4.35),(4.45,7.95)]
C_orange_L=[(2.93,2.5),(3.1,2.47)]
C_orange_S=[(0.92,2.15),(1.0,2.15),(1.2,2.3),(1.3,2.25),(1.4,2.4),(1.4,2.25),(1.5,2.25),(1.65,2.25),(1.75,2.3),(1.55,2.6),(1.65,2.65),(1.75,2.75),(1.85,2.7),(2.0,2.8),(2.1,2.85),(2.3,2.75),(2.4,2.7),(1.9,2.2),(2.0,2.1),(2.15,2.0),(2.2,1.95),(2.3,1.95),(2.45,1.8),(2.55,1.75),(2.4,2.15),(2.45,2.3),(2.2,2.4),(2.05,2.45),(2.7,1.75),(2.8,1.6),(2.9,1.6),(3.05,1.6),(3.15,1.7),(3.25,1.75),(3.35,1.72),(3.4,1.8),(3.45,1.9),(3.3,2.05),(3.15,2.0),(3.05,1.95),(3.4,2.05),(3.55,2.1),(3.65,2.15),(3.7,2.2),(2.7,2.6),(2.6,2.5),(2.7,2.4),(2.75,2.65),(3.05,2.8),(3.2,2.65),(3.45,2.35),(3.55,2.35),(2.5,2.9),(2.9,3.05),(3.0,3.1),(2.8,3.4),(2.8,3.45),(1.4,3.2),(1.55,3.15),(1.7,3.2),(1.9,3.1),(2.1,3.05),(3.35,3.55)]
C_gray_L=[(3.46,3.73)]
C_gray_S=[(3.5,3.5),(3.55,3.35),(3.7,3.4),(3.75,3.3),(3.9,3.5),(3.8,3.2),(3.7,3.15),(4.0,3.1),(4.1,3.0),(4.15,3.25),(3.6,2.95),(3.55,2.85),(3.7,2.85),(3.9,2.75),(4.0,2.7),(4.15,2.65),(3.6,2.45),(3.7,2.4),(3.65,2.35),(3.9,2.45),(4.05,2.4),(4.35,2.55),(4.45,2.6),(4.4,2.8),(4.5,2.85),(4.55,2.75),(4.7,2.9),(4.8,3.0),(4.75,3.15),(4.85,3.2),(4.8,3.3),(4.95,3.45),(4.9,3.55),(5.05,3.65),(5.05,3.75),(4.6,3.35),(4.45,3.45),(4.25,3.05),(4.9,3.95)]
C_pink_L=[(4.6,6.9),(4.9,7.25)]
C_pink_S=[(3.73,7.3),(3.4,7.45),(3.85,7.5),(4.0,8.95),(4.2,7.5),(4.2,7.55),(4.35,7.6),(4.3,7.3),(4.5,7.3),(4.6,7.35),(4.5,7.4),(4.75,7.2),(4.95,7.0),(4.75,6.75),(4.9,6.8),(5.1,7.05),(5.15,7.35),(4.45,7.0),(4.4,6.65),(4.55,6.7),(4.7,6.55),(4.5,6.45),(4.85,6.6),(5.2,6.5),(3.7,6.8),(3.85,6.75),(3.85,6.55),(3.9,6.65),(4.1,6.7),(3.7,6.15),(3.8,5.95),(3.85,6.0),(3.9,6.3),(4.0,6.25),(3.7,6.6)]
C_lorange_L=[(6.14,6.58),(7.98,6.95)]
C_lorange_S=[(6.0,6.4),(6.35,7.05),(6.5,6.25),(6.6,6.25),(6.7,6.27),(6.6,6.95),(6.55,7.0),(6.65,7.05),(6.8,7.15),(6.95,7.1),(6.9,6.8),(7.15,6.95),(7.25,6.85),(7.3,7.0),(7.4,7.05),(7.5,7.05),(7.6,7.1),(7.7,7.15),(7.45,6.8),(7.25,6.55),(7.5,6.45),(7.6,6.5),(7.75,6.6),(7.75,7.2),(7.35,7.3),(8.1,7.1)]
C_red_L=[(8.73,7.05),(8.8,6.85)]
C_red_S=[(8.35,7.1),(8.5,7.05),(8.6,7.1),(8.25,6.85),(8.45,6.85),(8.9,7.0),(9.1,6.6),(9.05,6.6),(8.95,6.55),(9.15,6.5),(9.25,6.45),(9.3,6.3),(8.8,6.35),(8.65,6.2),(8.6,6.1),(8.7,6.05),(8.93,6.07),(9.05,5.9),(8.45,6.1),(8.3,5.95),(8.3,5.85),(7.75,6.25),(7.85,6.1),(8.0,5.95),(8.1,5.75),(8.0,5.65),(8.15,5.45),(8.3,5.6),(8.4,5.7),(8.5,5.85),(8.7,5.7),(8.55,5.6),(8.65,5.55),(8.35,5.45),(8.5,5.5),(8.75,5.45),(8.85,5.65),(9.25,5.8),(9.3,5.7),(9.35,5.8),(9.45,5.8),(9.5,5.9),(9.55,5.95),(9.5,5.85),(7.98,5.42),(8.05,5.4),(8.02,5.22),(8.1,5.33),(8.05,5.2)]
C_salmon_L=[(8.22,9.3)]
C_salmon_S=[(8.1,9.35),(8.15,9.2),(8.3,9.17),(8.25,9.05),(8.2,9.35)]
C_lgreen_L=[(11.25,8.3),(11.05,8.15),(10.4,7.62),(11.1,8.12)]
C_lgreen_S=[(9.95,7.2),(10.15,7.35),(10.25,7.45),(10.55,7.75),(10.85,8.4),(10.9,8.0),(10.95,7.85),(10.85,7.95),(11.2,8.15),(11.4,8.3),(11.38,8.2),(11.3,8.1),(10.95,8.3)]
C_lpurple_S=[(1.25,6.1),(1.3,6.05),(1.4,6.0),(1.45,5.98),(1.55,5.95),(1.6,5.85),(1.7,5.8),(1.9,6.07)]
C_ring_fill=[(3.55,12.17,BLUE),(3.56,12.0,BLUE),(3.45,11.7,BLUE),(0.34,7.3,TEAL),(0.64,7.25,TEAL)]
C_leaders=[[(2.08,13.14),(3.4,12.23)],[(3.66,11.92),(4.99,11.52)],[(2.51,11.35),(3.27,11.61)],[(1.23,7.96),(0.77,7.31)],[(0.32,7.12),(0.27,6.55)]]

# ---------- panel D (KEGG) ----------
D_red_L=[(5.86,7.51),(5.88,7.47),(6.36,7.32),(6.42,7.35),(6.62,7.17),(6.58,7.08),(6.58,7.0),(6.91,7.16),(6.38,6.82),(6.63,6.82),(6.75,6.81),(6.31,6.65),(6.9,6.67),(6.96,6.65),(6.74,6.59),(7.14,6.37),(7.46,6.28),(7.56,6.3),(6.87,6.09)]
D_red_S=[(5.95,7.36),(6.05,7.22),(6.51,7.28),(6.68,7.27),(6.73,6.69),(6.23,6.56),(6.18,6.5),(6.23,6.45),(7.06,6.53),(7.68,6.37),(7.17,6.26),(7.56,6.27)]
D_green_L=[(5.64,5.34),(5.75,5.32),(5.77,5.33),(5.95,5.44),(5.98,5.35),(6.13,5.6),(6.48,5.75),(6.63,5.66),(6.63,5.46),(6.61,5.36),(6.41,5.16),(6.95,5.94),(7.07,5.95),(7.02,5.34),(6.98,5.25),(6.95,4.94),(6.3,4.65),(6.22,4.55),(6.61,4.19),(7.49,4.41)]
D_green_S=[(5.85,5.46),(5.81,5.2),(5.91,5.3),(6.68,5.1),(7.02,5.01),(6.99,4.92),(6.84,4.81),(7.1,4.7),(5.86,4.68),(5.88,4.57),(5.93,4.73),(6.05,4.54),(6.13,4.45),(5.98,4.4),(6.14,4.33)]
D_brown_L=[(7.25,5.53),(7.26,5.45),(7.25,5.25),(7.39,5.62),(7.41,5.59),(7.38,5.4),(7.43,5.13),(7.64,5.22),(8.0,4.93)]
D_brown_S=[(7.47,5.15),(7.66,4.71),(7.63,4.68),(7.56,4.92),(7.98,5.04),(8.28,5.27),(8.39,5.24),(8.53,5.26),(8.65,5.03),(8.69,5.03),(8.67,4.99),(8.71,4.98)]
D_orange_L=[(7.86,4.59),(8.24,4.53),(9.01,4.88),(9.19,4.69),(7.96,4.09),(8.1,4.04),(8.53,4.02),(8.55,3.95),(8.43,3.88),(8.78,3.9),(8.95,4.02),(8.97,3.86),(8.97,3.83),(8.65,3.66),(8.8,3.69),(8.01,3.65),(8.38,3.3),(9.41,4.09)]
D_orange_top=[(9.7,4.45),(9.75,4.43),(9.72,4.46)]
D_orange_S=[(8.02,4.25),(8.35,4.56),(8.23,4.41),(8.54,4.7),(9.21,4.62),(9.28,4.6),(9.16,4.41),(9.2,4.4),(8.87,4.21),(9.17,4.2),(9.64,4.3),(8.4,4.13),(8.35,4.05),(7.96,3.99),(8.36,3.95),(8.62,3.88),(9.08,4.02),(9.15,3.93),(7.9,3.83),(8.04,3.67),(7.9,3.58),(7.91,3.55),(7.83,3.53),(8.69,3.58),(8.84,3.53),(8.85,3.43),(8.1,3.33),(8.2,3.39),(8.22,3.38),(8.28,3.35)]
D_purple_L=[(5.7,7.37),(7.31,7.11),(7.64,6.87),(7.7,6.64)]
D_purple_S=[(7.58,6.93)]
D_blue_L=[(7.42,7.26),(7.95,7.35),(8.12,6.31),(8.1,6.2)]
D_blue_S=[(8.11,7.38),(8.43,7.4),(8.38,7.32),(8.48,7.36),(8.53,7.33),(8.54,7.27),(8.47,7.02),(8.16,6.96),(8.2,6.95),(8.14,6.86),(8.27,6.88),(8.04,6.78),(8.04,6.62),(8.11,6.62),(8.36,6.58),(8.32,6.5),(8.31,6.43),(7.55,6.49),(8.56,6.81),(8.63,6.81),(8.63,6.68),(8.62,6.49),(8.59,6.44),(8.93,6.83),(8.39,6.28),(8.72,6.36),(8.69,6.28),(8.67,6.26),(8.48,6.2),(8.76,6.16),(8.39,6.09),(8.83,6.05),(8.78,6.02),(8.96,6.02),(8.19,5.91),(8.19,5.82),(8.34,5.93),(8.53,5.94),(8.5,5.87),(8.56,5.88),(8.64,5.83),(8.53,5.8),(8.28,5.7),(8.82,5.74),(8.8,5.68),(8.63,5.63),(8.43,5.58),(8.56,5.55),(8.41,5.48),(8.95,5.47),(9.04,6.66),(9.1,6.71),(8.99,6.59),(9.16,6.63),(9.14,6.5),(9.23,6.47),(9.23,6.38),(9.2,6.26),(9.16,6.22),(9.12,6.2),(9.07,6.16),(9.02,6.23),(9.3,6.63),(9.42,6.62),(9.59,6.61),(9.5,6.4),(9.31,7.42),(9.26,7.35),(9.11,7.16),(9.53,7.34),(9.65,6.98),(9.63,6.88),(9.68,6.81),(9.79,7.06),(9.83,6.97),(9.86,6.94),(9.95,6.59),(9.94,6.46),(10.03,6.37),(10.06,6.98),(10.08,7.08),(10.14,6.99),(10.13,6.77)]
D_pink_L=[(7.58,5.87),(7.89,5.53),(9.72,5.75),(10.27,6.0),(10.25,5.81)]
D_pink_S=[(7.93,5.97),(7.71,5.87),(7.73,5.8),(7.77,5.72),(7.94,5.53),(9.33,5.8),(9.51,5.79),(10.1,5.85),(10.18,5.92),(10.17,5.74),(10.25,6.13)]
D_olive_L=[(9.92,5.56)]
D_olive_S=[(9.75,5.6),(9.91,5.62),(10.05,5.4),(10.04,5.23),(10.0,5.16),(9.87,5.13),(9.89,5.2),(9.48,5.17),(9.65,4.79)]
D_teal_L=[(8.15,8.0)]
D_teal_S=[(8.35,8.45),(8.4,8.39),(8.35,8.32),(8.33,8.32),(8.27,8.25),(8.32,7.93)]
D_gray_L=[(9.92,8.67)]
D_gray_S=[(10.01,8.74),(9.81,8.57),(9.78,8.54),(9.88,8.63),(9.43,7.97),(9.38,7.89)]
D_lblue_S=[(9.17,5.4),(9.23,5.47),(9.25,5.5),(9.3,5.07)]
D_ring_fill=[(6.72,6.22,RED),(8.08,6.01,BLUE),(8.31,5.76,BLUE),(9.73,4.49,ORANGE),(5.95,4.8,GREEN)]
D_leaders=[[(6.17,7.8),(6.69,6.3)],[(7.64,7.45),(8.04,6.09)],[(9.53,7.06),(8.36,5.83)],[(9.53,4.85),(9.67,4.53)],[(5.94,4.69),(5.89,4.2)]]

# ---------- axis ticks and text ----------
X_TICKS_A=[0,2,4,6,8,10,12]; Y_TICKS_A=[-2,0,2,4,6,8,10,12]
X_TICKS_B=[4,6,8,10,12,14]; Y_TICKS_B=[-6,-4,-2,0,2,4]
X_TICKS_C=[0,2,4,6,8,10,12]; Y_TICKS_C=[2,4,6,8,10,12]
X_TICKS_D=[6,7,8,9,10]; Y_TICKS_D=[3,4,5,6,7,8,9]
PANEL_TITLES=["GO-BP","GO-CC","GO-MF","KEGG"]
PANEL_LETTERS=["A","B","C","D"]

W,H=1772,1817
BOXES=[(36,878,57,835),(920,1770,53,837),(30,878,945,1727),(925,1772,945,1727)]
RANGES=[((-0.68,12.06),(-2.95,12.56)),((2.28,14.65),(-7.91,5.59)),((-0.89,12.0),(0.96,13.78)),((5.17,10.46),(2.59,9.07))]
TICKS=[(X_TICKS_A,Y_TICKS_A),(X_TICKS_B,Y_TICKS_B),(X_TICKS_C,Y_TICKS_C),(X_TICKS_D,Y_TICKS_D)]
TITLE_POS=[(464,899),(1388,896),(464,1794),(1388,1794)]
LETTER_POS=[(16,22),(901,22),(14,914),(901,913)]
XTITLE_POS=[(446,857),(1356,860),(452,1750),(1351,1752)]
YTITLE_POS=[(14,445),(897,445),(9,1335),(898,1335)]
OV=1772/1528  # text positions measured on a 1528 px wide view
LABELS=[("extracellular matrix",555,196),("organization",555,218),("(GO:0030198)",555,236),("q = 5.232848e-19",556,257),
("negative regulation",601,331),("of blood coagulation",601,352),("(GO:0030195)",601,371),("q = 1.209407e-15",601,388),
("angiotensin maturation",556,417),("(GO:0002003)",556,435),("q = 2.186935e-16",556,453),
("regulation of systemic arterial",531,594),("blood pressure by renin-angio",531,613),("tensin (GO:0003081)",531,631),("q = 3.768810e-13",531,649),
("negative regulation of blood",32,623),("coagulation (GO:0030195)",32,641),("q = 1.209407e-15",32,657),
("platelet alpha granule",1065,81),("(GO:0031091)",1065,106),("q = 3.093034e-09",1065,125),
("platelet alpha granule lumen",1274,132),("(GO:0031093)",1274,157),("q = 5.574742e-07",1274,178),
("secretory granule lumen",889,173),("(GO:0034774)",889,193),("q = 2.915166e-05",889,212),
("endoplasmic reticulum lumen",1170,232),("(GO:0005788)llular matrix",1170,252),("q = 1.396011e-04",1173,274),
("collagen-containing extracellular matrix",1177,330),("(GO:0062023)",1176,351),("q = 7.671213e-14",1176,373),
("serine-type endopeptidase activity",43,829),("(GO:0004252)",43,850),("q = 1.423419e-13",43,868),
("endopeptidase activity",361,927),("(GO:0004175)",361,945),("q = 5.568040e-18",361,962),
("endopeptidase activity",76,952),("(GO:0004175)",76,971),("q = 5.568040e-18",76,991),
("protease binding",69,1067),("(GO:0002020)",68,1090),("q = 5.731910e-10",68,1111),
("C-X3-C chemokine",49,1205),("binding",49,1224),("(GO:0019960)",46,1243),
("AGE-RAGE signaling pathway",830,895),("in diabetic complications",830,915),("q = 1.085525e-10",829,935),
("Complement and coagulation cascades",1137,948),("q = 1.359814e-14",1137,971),
("Renin-angiotensin system",1331,994),("q = 7.947908e-19",1331,1013),
("Hypertrophic cardiomyopathy",1303,1216),("q = 5.134208e-11",1304,1240),
("Pathways in cancer",838,1332),("q = 7.761688e-12",838,1352)]
SMALL_LABELS=[("q = 4.544418e-06",47,1261)]

S,M,L=6.5,11,16
A_SERIES=[(A_teal_S,TEAL,S,.55),(A_orange_S,ORANGE,S,.55),(A_green_S,GREEN,S,.55),(A_gray_S,GRAY,S,.55),(A_blue_S,BLUE,S,.55),(A_red_S,RED,S,.55),(A_purple_S,PURPLE,S,.55),(A_brown_S,BROWN,S,.55),(A_lorange_S,LORANGE,S,.7),(A_olive_S,OLIVE,S,.6),(A_pink_S,PINK,S,.55),(A_lgreen_S,LGREEN,S,.7),(A_lblue_S,LBLUE,S,.7),(A_lpurple_S,LPURPLE,S,.8),(A_salmon_S,SALMON,S,.7),(A_lgray_S,LGRAY,S,.7),(A_lbrown_S,LBROWN,S,.8),(A_misc_brown_S,BROWN,S,.7),
(A_rings,"RING",14,1),
(A_teal_L,TEAL,L,1),(A_orange_M,ORANGE,M,1),(A_orange_L,ORANGE,L,1),(A_gray_M,GRAY,M,1),(A_gray_L,GRAY,L,1),(A_blue_M,BLUE,M,1),(A_blue_L,BLUE,L,1),(A_purple_M,PURPLE,M,1),(A_purple_L,PURPLE,L,1),(A_brown_M,BROWN,M,1),(A_brown_L,BROWN,L,1),(A_pink_M,PINK,M,1),(A_pink_L,PINK,L,1),(A_olive_M,OLIVE,M,1),(A_olive_L,OLIVE,L,1),(A_red_M,RED,M,1),(A_red_L,RED,L,1),(A_green_M,GREEN,M,1),(A_green_L,GREEN,L,1),(A_lorange_M,LORANGE,M,1),(A_lorange_L,LORANGE,L,1),(A_lgreen_M,LGREEN,M,1),(A_lgreen_L,LGREEN,L,1),(A_lblue_L,LBLUE,L,1),(A_lpurple_L,LPURPLE,L,1),(A_salmon_L,SALMON,L,1),(A_lgray_L,LGRAY,L,1),(A_lbrown_L,LBROWN,L,1),(A_misc_gray_L,GRAY,L,1)]
B_SERIES=[(B_orange_S,ORANGE,S,.6),(B_lorange_S,LORANGE,S,.8),(B_blue_S,BLUE,S,.6),(B_green_S,GREEN,S,.6),(B_teal_S,TEAL,S,.75),(B_gray_S,GRAY,S,.6),(B_red_S,RED,S,.6),(B_purple_S,PURPLE,S,.6),(B_pink_S,PINK,S,.6),(B_brown_S,BROWN,S,.6),(B_olive_S,OLIVE,S,.8),(B_lblue_S,LBLUE,S,.8),
(B_orange_L,ORANGE,L,1),(B_blue_L,BLUE,L,1),(B_green_L,GREEN,L,1),(B_gray_L,GRAY,L,1),(B_red_L,RED,L,1),(B_purple_L,PURPLE,L,1),(B_pink_L,PINK,L,1)]
C_SERIES=[(C_blue_S,BLUE,S,.6),(C_lblue_S,LBLUE,S,.7),(C_green_S,GREEN,S,.6),(C_teal_S,TEAL,S,.7),(C_purple_S,PURPLE,S,.6),(C_brown_S,BROWN,S,.6),(C_olive_S,OLIVE,S,.6),(C_orange_S,ORANGE,S,.6),(C_gray_S,GRAY,S,.6),(C_pink_S,PINK,S,.6),(C_lorange_S,LORANGE,S,.7),(C_red_S,RED,S,.6),(C_salmon_S,SALMON,S,.7),(C_lgreen_S,LGREEN,S,.7),(C_lpurple_S,LPURPLE,S,.8),
(C_blue_L,BLUE,L,1),(C_lblue_L,LBLUE,L,1),(C_green_L,GREEN,L,1),(C_teal_L,TEAL,L,1),(C_purple_L,PURPLE,L,1),(C_brown_L,BROWN,L,1),(C_olive_L,OLIVE,L,1),(C_orange_L,ORANGE,L,1),(C_gray_L,GRAY,L,1),(C_pink_L,PINK,L,1),(C_lorange_L,LORANGE,L,1),(C_red_L,RED,L,1),(C_salmon_L,SALMON,L,1),(C_lgreen_L,LGREEN,L,1)]
D_SERIES=[(D_red_S,RED,S,.7),(D_green_S,GREEN,S,.7),(D_brown_S,BROWN,S,.6),(D_orange_S,ORANGE,S,.7),(D_purple_S,PURPLE,S,.5),(D_blue_S,BLUE,S,.55),(D_pink_S,PINK,S,.7),(D_olive_S,OLIVE,S,.6),(D_teal_S,TEAL,S,.8),(D_gray_S,GRAY,S,.7),(D_lblue_S,LBLUE,S,.5),
(D_red_L,RED,L,1),(D_green_L,GREEN,L,1),(D_brown_L,BROWN,L,1),(D_orange_L,ORANGE,L,1),(D_purple_L,PURPLE,L,1),(D_blue_L,BLUE,L,1),(D_pink_L,PINK,L,1),(D_olive_L,OLIVE,L,1),(D_teal_L,TEAL,L,1),(D_gray_L,GRAY,L,1)]

fig=go.Figure()
def scatter(pts,color,size,op,n):
    if color=="RING":
        marker=dict(symbol="circle-open",color="black",size=size,line=dict(color="black",width=2))
    else:
        marker=dict(color=color,size=size,opacity=op,line=dict(width=0))
    fig.add_trace(go.Scatter(x=[p[0] for p in pts],y=[p[1] for p in pts],mode="markers",xaxis=f"x{n}",yaxis=f"y{n}",
        marker=marker,showlegend=False,hoverinfo="skip"))

for n,(series,rings,leaders) in enumerate([(A_SERIES,[],A_leaders),(B_SERIES,B_ring_fill,B_leaders),(C_SERIES,C_ring_fill,C_leaders),(D_SERIES,D_ring_fill,D_leaders)],1):
    for s in series: scatter(*s,n)
    for seg in leaders:
        fig.add_trace(go.Scatter(x=[p[0] for p in seg],y=[p[1] for p in seg],mode="lines",xaxis=f"x{n}",yaxis=f"y{n}",
            line=dict(color="black",width=1.3),showlegend=False,hoverinfo="skip"))
    if rings:
        fig.add_trace(go.Scatter(x=[r[0] for r in rings],y=[r[1] for r in rings],mode="markers",xaxis=f"x{n}",yaxis=f"y{n}",
            marker=dict(color=[r[2] for r in rings],size=15,line=dict(color="black",width=2.4)),showlegend=False,hoverinfo="skip"))
scatter(D_orange_top,ORANGE,L,1,4)

layout=dict(width=W,height=H,margin=dict(l=0,r=0,t=0,b=0),paper_bgcolor="white",plot_bgcolor="white",showlegend=False,autosize=False)
anns=[];shapes=[]
TF=dict(family="Liberation Sans",size=13.5,color="#4D4D4D")
def label(text,px,py,size,family,color,anchor="center",angle=0):
    anns.append(dict(text=text,xref="paper",yref="paper",x=px/W,y=1-py/H,xanchor=anchor,yanchor="middle",textangle=angle,showarrow=False,font=dict(family=family,size=size,color=color)))
for i,((l,r,t,b),(xr,yr),(xt,yt)) in enumerate(zip(BOXES,RANGES,TICKS),1):
    common=dict(showgrid=True,gridcolor="#EBEBEB",gridwidth=1.5,zeroline=False,showline=True,linecolor="#444444",linewidth=1.6,ticks="",tickfont=TF,automargin=False)
    layout[f"xaxis{i}"]=dict(domain=[l/W,r/W],range=list(xr),tickvals=xt,ticklabelstandoff=-5,anchor=f"y{i}",**common)
    layout[f"yaxis{i}"]=dict(domain=[1-b/H,1-t/H],range=list(yr),tickvals=yt,ticklabelstandoff=-3,anchor=f"x{i}",**common)
    shapes.append(dict(type="rect",xref="paper",yref="paper",x0=l/W,x1=r/W,y0=1-b/H,y1=1-t/H,line=dict(color="#E3E3E3",width=1),layer="below"))
    label("<i>UMAP_1</i>",*XTITLE_POS[i-1],14,"Liberation Sans","#444444")
    label("<i>UMAP_2</i>",*YTITLE_POS[i-1],14,"Liberation Sans","#444444",angle=-90)
    label(PANEL_TITLES[i-1],*TITLE_POS[i-1],43,"Liberation Serif","#101a20")
    label(f"<b>{PANEL_LETTERS[i-1]}</b>",*LETTER_POS[i-1],36,"Liberation Sans","black")
for txt,px,py in LABELS:
    label(txt,px*OV-2.5,py*OV-1,21,"Liberation Serif","#111111",anchor="left")
for txt,px,py in SMALL_LABELS:
    label(txt,px*OV-2.5,py*OV-1,15.3,"Liberation Serif","#111111",anchor="left")
layout["annotations"]=anns; layout["shapes"]=shapes
fig.update_layout(**layout)
fig.write_html("out.html",config={"displayModeBar":False},post_script="document.body.style.margin='0';")
